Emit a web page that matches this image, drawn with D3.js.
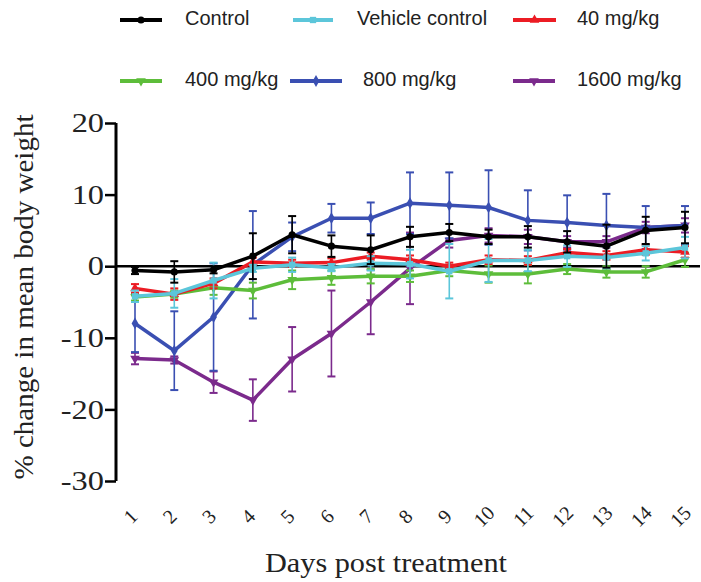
<!DOCTYPE html>
<html>
<head>
<meta charset="utf-8">
<script src="https://cdn.jsdelivr.net/npm/d3@7"></script>
<style>
  body { margin: 0; background: #fff; }
  svg { display: block; }
</style>
</head>
<body>
<svg id="chart" width="701" height="582"></svg>
<script>
// days on the x axis
const days = [1, 2, 3, 4, 5, 6, 7, 8, 9, 10, 11, 12, 13, 14, 15];
const yTicks = [20, 10, 0, -10, -20, -30];

// mean % change and error (SD) per group
const controlMean = [-0.6, -0.8, -0.5, 1.4, 4.4, 2.8, 2.3, 4.1, 4.7, 4.1, 4.1, 3.4, 2.8, 5.0, 5.4];
const controlErr = [0.5, 1.5, 0.5, 3.2, 2.6, 1.5, 2.0, 1.4, 1.2, 1.0, 1.5, 1.5, 3.0, 1.9, 2.2];

const vehicleMean = [-4.2, -3.8, -2.0, -0.3, 0.2, -0.2, 0.4, 0.3, -0.7, 0.8, 0.8, 1.4, 1.2, 1.8, 2.6];
const vehicleErr = [0.8, 2.0, 2.5, 0.5, 1.0, 0.5, 1.0, 2.0, 3.8, 3.0, 1.5, 1.5, 1.5, 1.0, 1.5];

const mg40Mean = [-3.1, -3.9, -2.4, 0.6, 0.4, 0.5, 1.4, 0.9, 0.0, 0.9, 0.8, 1.9, 1.5, 2.3, 2.0];
const mg40Err = [0.6, 0.8, 0.7, 0.6, 0.5, 0.6, 0.5, 0.6, 0.5, 0.6, 0.6, 0.5, 0.6, 0.7, 0.8];

const mg400Mean = [-4.3, -3.9, -3.0, -3.4, -1.9, -1.6, -1.4, -1.4, -0.6, -1.1, -1.1, -0.4, -0.8, -0.8, 0.9];
const mg400Err = [0.5, 0.5, 1.0, 1.1, 1.3, 1.0, 1.0, 0.8, 0.8, 1.2, 1.3, 0.7, 0.8, 0.8, 1.0];

const mg800Mean = [-8.0, -11.8, -7.1, 0.2, 4.1, 6.7, 6.7, 8.8, 8.5, 8.2, 6.4, 6.1, 5.7, 5.4, 5.7];
const mg800Err = [4.0, 5.5, 7.5, 7.5, 2.0, 2.0, 2.2, 4.3, 4.6, 5.2, 4.2, 3.8, 4.4, 3.0, 2.7];

const mg1600Mean = [-12.9, -13.1, -16.2, -18.7, -13.0, -9.4, -5.0, -0.3, 3.6, 4.3, 4.1, 3.4, 3.4, 5.4, 5.7];
const mg1600Err = [0.8, 0.5, 1.5, 2.9, 4.5, 6.0, 4.5, 5.0, 1.0, 1.0, 1.0, 0.8, 0.8, 0.8, 1.0];

const groups = [
  { name: 'Control', mean: controlMean, err: controlErr, color: '#000000', symbol: d3.symbolCircle, rot: 0 },
  { name: 'Vehicle control', mean: vehicleMean, err: vehicleErr, color: '#5cc6da', symbol: d3.symbolSquare, rot: 0 },
  { name: '40 mg/kg', mean: mg40Mean, err: mg40Err, color: '#ec1c24', symbol: d3.symbolTriangle, rot: 0 },
  { name: '400 mg/kg', mean: mg400Mean, err: mg400Err, color: '#5dbd3a', symbol: d3.symbolTriangle, rot: 180 },
  { name: '800 mg/kg', mean: mg800Mean, err: mg800Err, color: '#3a4fb2', symbol: d3.symbolDiamond, rot: 0 },
  { name: '1600 mg/kg', mean: mg1600Mean, err: mg1600Err, color: '#7b2a8c', symbol: d3.symbolTriangle, rot: 180 },
];

// drawing order: back to front as in the figure
const drawOrder = [5, 4, 3, 2, 1, 0];

const svg = d3.select('#chart');

const x = d3.scaleLinear().domain([1, 15]).range([135, 685]);
const y = d3.scaleLinear().domain([-30, 20]).range([481, 123]);
const AXIS_X = 116;

const serif = "'Liberation Serif', 'Times New Roman', serif";
const sans = "'Liberation Sans', Arial, sans-serif";

// y axis
const yAxis = svg.append('g')
  .attr('transform', `translate(${AXIS_X},0)`)
  .call(d3.axisLeft(y).tickValues(yTicks).tickSize(11).tickFormat((d) => String(d)));
yAxis.select('.domain').attr('stroke', '#000').attr('stroke-width', 3).attr('d', `M0,${y(20)}V${y(-30)}`);
yAxis.selectAll('.tick line').attr('stroke', '#000').attr('stroke-width', 2.5);
// the figure's lettering is a bit wider than plain Times, stretch it
yAxis.selectAll('.tick text')
  .attr('x', -10)
  .attr('transform', 'scale(1.2,1)')
  .attr('fill', '#222')
  .style('font-family', serif)
  .style('font-size', '27px');

// x axis drawn at y = 0
const xAxis = svg.append('g')
  .attr('transform', `translate(0,${y(0)})`)
  .call(d3.axisBottom(x).tickValues([]).tickSizeOuter(0));
xAxis.select('.domain').attr('stroke', '#000').attr('stroke-width', 2.5).attr('d', `M${AXIS_X},0H700`);

// rotated day labels under the plot
svg.append('g')
  .selectAll('text')
  .data(days)
  .join('text')
  .attr('transform', (d) => `translate(${x(d) - 3},${518}) rotate(-45)`)
  .attr('text-anchor', 'middle')
  .attr('dominant-baseline', 'middle')
  .style('font-family', serif)
  .style('font-size', '20px')
  .attr('fill', '#222')
  .text((d) => d);

// axis titles
svg.append('text')
  .attr('x', 386)
  .attr('y', 572)
  .attr('text-anchor', 'middle')
  .attr('textLength', 242)
  .attr('lengthAdjust', 'spacingAndGlyphs')
  .style('font-family', serif)
  .style('font-size', '27px')
  .attr('fill', '#222')
  .text('Days post treatment');

svg.append('text')
  .attr('transform', `translate(33,297) rotate(-90)`)
  .attr('text-anchor', 'middle')
  .attr('textLength', 365)
  .attr('lengthAdjust', 'spacingAndGlyphs')
  .style('font-family', serif)
  .style('font-size', '27px')
  .attr('fill', '#222')
  .text('% change in mean body weight');

const line = d3.line().x((d) => x(d.day)).y((d) => y(d.v));
const plot = svg.append('g');

drawOrder.forEach((gi) => {
  const g = groups[gi];
  const pts = days.map((d, i) => ({ day: d, v: g.mean[i], e: g.err[i] }));
  const layer = plot.append('g');

  // error bars
  const bars = layer.selectAll('g.err').data(pts).join('g').attr('class', 'err');
  bars.append('line')
    .attr('x1', (d) => x(d.day)).attr('x2', (d) => x(d.day))
    .attr('y1', (d) => y(d.v - d.e)).attr('y2', (d) => y(d.v + d.e))
    .attr('stroke', g.color).attr('stroke-width', 1.6);
  [1, -1].forEach((s) => {
    bars.append('line')
      .attr('x1', (d) => x(d.day) - 4).attr('x2', (d) => x(d.day) + 4)
      .attr('y1', (d) => y(d.v + s * d.e)).attr('y2', (d) => y(d.v + s * d.e))
      .attr('stroke', g.color).attr('stroke-width', 2);
  });

  layer.append('path')
    .datum(pts)
    .attr('fill', 'none')
    .attr('stroke', g.color)
    .attr('stroke-width', 3.5)
    .attr('stroke-linejoin', 'round')
    .attr('d', line);

  layer.selectAll('path.mark').data(pts).join('path')
    .attr('class', 'mark')
    .attr('transform', (d) => `translate(${x(d.day)},${y(d.v)}) rotate(${g.rot})`)
    .attr('d', d3.symbol().type(g.symbol).size(40))
    .attr('fill', g.color);
});

// legend
const legendItems = [
  { gi: 0, lx: 120, lw: 42, tx: 185, ty: 20 },
  { gi: 1, lx: 293, lw: 40, tx: 357, ty: 20 },
  { gi: 2, lx: 513, lw: 43, tx: 577, ty: 20 },
  { gi: 3, lx: 120, lw: 42, tx: 185, ty: 81 },
  { gi: 4, lx: 290, lw: 52, tx: 363, ty: 81 },
  { gi: 5, lx: 513, lw: 42, tx: 577, ty: 81 },
];
const legend = svg.append('g');
legendItems.forEach((it) => {
  const g = groups[it.gi];
  legend.append('line')
    .attr('x1', it.lx).attr('x2', it.lx + it.lw)
    .attr('y1', it.ty).attr('y2', it.ty)
    .attr('stroke', g.color).attr('stroke-width', 4);
  legend.append('path')
    .attr('transform', `translate(${it.lx + it.lw / 2},${it.ty}) rotate(${g.rot})`)
    .attr('d', d3.symbol().type(g.symbol).size(40))
    .attr('fill', g.color);
  legend.append('text')
    .attr('x', it.tx).attr('y', it.ty)
    .attr('dominant-baseline', 'middle')
    .style('font-family', sans)
    .style('font-size', '20px')
    .attr('fill', '#222')
    .text(g.name);
});
</script>
</body>
</html>
